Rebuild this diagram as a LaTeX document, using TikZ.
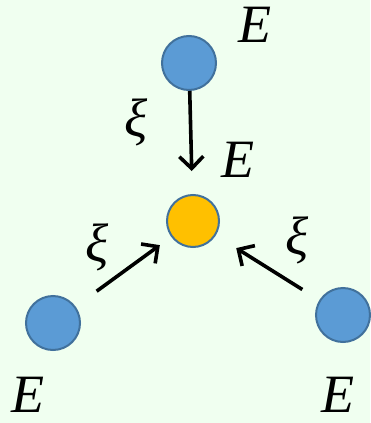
\documentclass[tikz,border=0pt]{standalone}
\usepackage{fontspec}
\setmainfont{Liberation Serif}
\usetikzlibrary{arrows.meta}
\definecolor{Bg}{HTML}{F0FFF0}
\definecolor{Ball}{HTML}{5B9BD5}
\definecolor{Rim}{HTML}{41719C}
\definecolor{Gold}{HTML}{FFC000}

\begin{document}
\begin{tikzpicture}[x=1pt,y=-1pt,
    ball/.style={circle,draw=Rim,line width=2pt,fill=Ball,minimum size=54pt,inner sep=0pt},
    hop/.style={line width=3.6pt,-{Straight Barb[length=12pt,width=24pt,line width=3.6pt]}},
    lab/.style={font=\fontsize{54}{60}\selectfont\itshape,inner sep=0pt}]
        \fill[Bg](0,0)rectangle(370,423);
        \useasboundingbox(0,0)rectangle(370,423);
        \node[ball](top)at(189,63){};
        \node[ball,fill=Gold,minimum size=52pt](mid)at(193,221){};
        \node[ball](left)at(53,323){};
        \node[ball](right)at(343,315){};
        \draw[hop,shorten <=0pt,shorten >=23pt](top)--(mid);
        \draw[hop,shorten <=26pt,shorten >=14pt](left)--(mid);
        \draw[hop,shorten <=20pt,shorten >=24pt](right)--(mid);
        \node[lab](eTop)at(255,25){E};
        \node[lab](eMid)at(238,160){E};
        \node[lab](eLeft)at(28,395){E};
        \node[lab](eRight)at(338,395){E};
        \node[lab](xTop)at(136,122){ξ};
        \node[lab](xLeft)at(97,247){ξ};
        \node[lab](xRight)at(297,240){ξ};
      \end{tikzpicture}
\end{document}
